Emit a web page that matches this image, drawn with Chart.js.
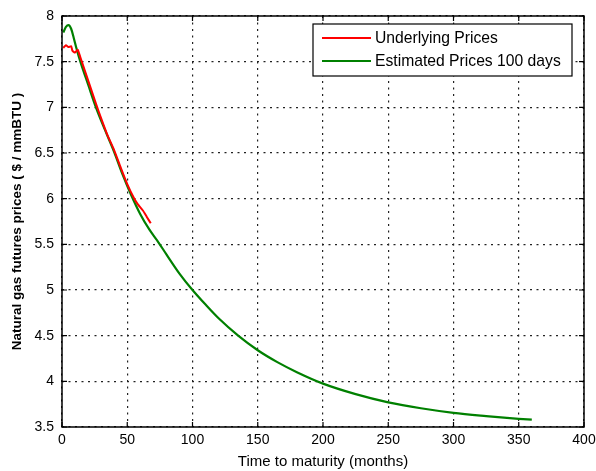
<!DOCTYPE html>
<html>
<head>
<meta charset="utf-8">
<script src="https://cdn.jsdelivr.net/npm/chart.js@4/dist/chart.umd.min.js"></script>
<style>
  html, body { margin: 0; padding: 0; background: #fff; }
  #wrap { width: 596px; height: 471px; }
</style>
</head>
<body>
<div id="wrap"><canvas id="c" width="596" height="471"></canvas></div>
<script>
// ---- Data ----
const seriesLabels = ["Underlying Prices", "Estimated Prices 100 days"];

const underlyingX = [1, 3, 5, 7, 8, 10, 12, 14, 18, 22, 26, 30, 35, 40, 45, 50, 55, 58, 62, 65, 68];
const underlyingY = [7.65, 7.68, 7.66, 7.67, 7.62, 7.60, 7.63, 7.55, 7.38, 7.21, 7.04, 6.88, 6.69, 6.53, 6.34, 6.16, 6.01, 5.94, 5.87, 5.80, 5.73];

const estimatedX = [1, 3, 5, 7, 9, 11, 13, 15, 20, 26, 33, 40, 46, 53, 60, 67, 74, 80, 90, 100, 110, 120, 135, 150, 165, 180, 200, 225, 250, 275, 300, 325, 350, 360];
const estimatedY = [7.82, 7.88, 7.90, 7.86, 7.76, 7.65, 7.55, 7.46, 7.25, 7.00, 6.75, 6.51, 6.28, 6.04, 5.83, 5.66, 5.52, 5.39, 5.18, 5.00, 4.84, 4.69, 4.50, 4.34, 4.21, 4.10, 3.975, 3.86, 3.77, 3.705, 3.655, 3.62, 3.59, 3.58];

const xTicks = [0, 50, 100, 150, 200, 250, 300, 350, 400];
const yTicks = [3.5, 4, 4.5, 5, 5.5, 6, 6.5, 7, 7.5, 8];

const xTitle = "Time to maturity (months)";
const yTitle = "Natural gas futures prices ( $ / mmBTU )";

const FONT = "'Liberation Sans', Arial, sans-serif";

function toPoints(xs, ys) { return xs.map((x, i) => ({ x: x, y: ys[i] })); }

const boxPlugin = {
  id: 'boxPlugin',
  afterDraw(chart) {
    const ctx = chart.ctx;
    const a = chart.chartArea;
    const xs = chart.scales.x, ys = chart.scales.y;
    ctx.save();
    ctx.strokeStyle = '#000';
    ctx.lineWidth = 1.5;
    ctx.setLineDash([]);
    ctx.strokeRect(a.left, a.top, a.right - a.left, a.bottom - a.top);
    // inward tick marks
    const tl = 5;
    ctx.lineWidth = 1.2;
    ctx.beginPath();
    xTicks.forEach(v => {
      const px = xs.getPixelForValue(v);
      ctx.moveTo(px, a.bottom); ctx.lineTo(px, a.bottom - tl);
      ctx.moveTo(px, a.top); ctx.lineTo(px, a.top + tl);
    });
    yTicks.forEach(v => {
      const py = ys.getPixelForValue(v);
      ctx.moveTo(a.left, py); ctx.lineTo(a.left + tl, py);
      ctx.moveTo(a.right, py); ctx.lineTo(a.right - tl, py);
    });
    ctx.stroke();

    // legend box (MATLAB style, inside the axes, upper right)
    const bx = 313, by = 24, bw = 259, bh = 52;
    ctx.fillStyle = '#fff';
    ctx.fillRect(bx, by, bw, bh);
    ctx.lineWidth = 1.2;
    ctx.strokeStyle = '#000';
    ctx.strokeRect(bx, by, bw, bh);
    ctx.font = '15.7px ' + FONT;
    ctx.textBaseline = 'middle';
    ctx.textAlign = 'left';
    chart.data.datasets.forEach((ds, i) => {
      const ry = by + 14 + i * 23;
      ctx.strokeStyle = ds.borderColor;
      ctx.lineWidth = 2;
      ctx.beginPath();
      ctx.moveTo(bx + 9, ry); ctx.lineTo(bx + 58, ry);
      ctx.stroke();
      ctx.fillStyle = '#000';
      ctx.fillText(ds.label, bx + 62, ry + 1);
    });
    ctx.restore();
  }
};

new Chart(document.getElementById('c'), {
  type: 'line',
  data: {
    datasets: [
      {
        label: seriesLabels[0],
        data: toPoints(underlyingX, underlyingY),
        borderColor: '#ff0000',
        borderWidth: 2,
        pointRadius: 0,
        tension: 0.2,
        fill: false
      },
      {
        label: seriesLabels[1],
        data: toPoints(estimatedX, estimatedY),
        borderColor: '#008000',
        borderWidth: 2.2,
        pointRadius: 0,
        cubicInterpolationMode: 'monotone',
        fill: false
      }
    ]
  },
  options: {
    responsive: false,
    animation: false,
    devicePixelRatio: 1,
    layout: { padding: { left: 0, top: 16, right: 12, bottom: 0 } },
    plugins: {
      legend: { display: false },
      tooltip: { enabled: false }
    },
    scales: {
      x: {
        type: 'linear',
        min: 0, max: 400,
        afterBuildTicks: s => { s.ticks = xTicks.map(v => ({ value: v })); },
        afterFit: s => { s.height = 44; s.paddingLeft = 0; s.paddingRight = 0; },
        ticks: {
          color: '#000',
          font: { family: FONT, size: 14 },
          padding: 5,
          maxRotation: 0,
          callback: v => String(v)
        },
        grid: {
          color: '#222',
          lineWidth: 1.2,
          drawTicks: false
        },
        border: { display: false, dash: [2, 4.5] },
        title: {
          display: true,
          text: xTitle,
          color: '#000',
          font: { family: FONT, size: 15 },
          padding: { top: 0, bottom: 0 }
        }
      },
      y: {
        type: 'linear',
        min: 3.5, max: 8,
        afterBuildTicks: s => { s.ticks = yTicks.map(v => ({ value: v })); },
        afterFit: s => { s.width = 62; s.paddingTop = 0; s.paddingBottom = 0; },
        ticks: {
          color: '#000',
          font: { family: FONT, size: 14 },
          padding: 8,
          callback: v => String(v)
        },
        grid: {
          color: '#222',
          lineWidth: 1.2,
          drawTicks: false
        },
        border: { display: false, dash: [2, 4.5] },
        title: {
          display: true,
          text: yTitle,
          color: '#000',
          font: { family: FONT, size: 13.5, weight: 'bold' },
          padding: { top: 9, bottom: 0 }
        }
      }
    }
  },
  plugins: [boxPlugin]
});
</script>
</body>
</html>
